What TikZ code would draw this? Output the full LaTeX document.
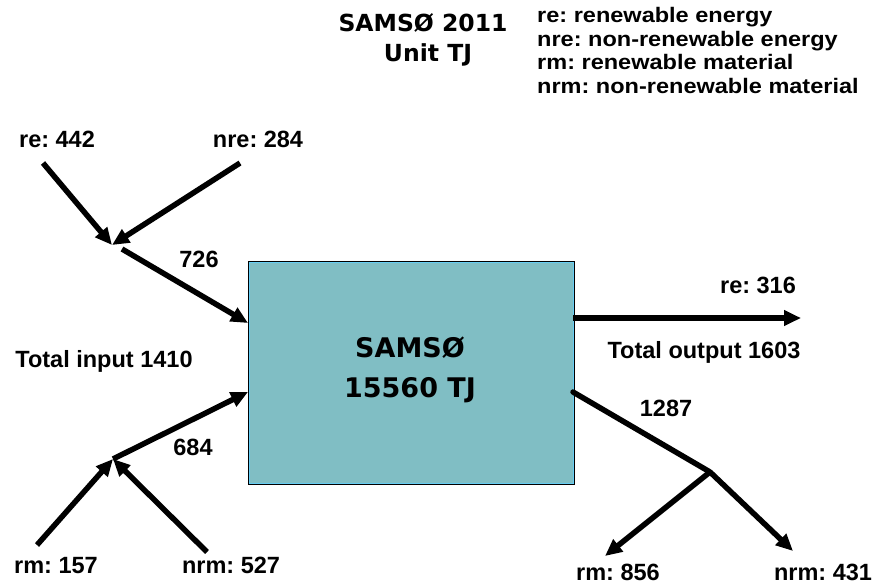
\documentclass[tikz,border=0pt]{standalone}
\usepackage{fontspec}
\setmainfont{Liberation Sans}
\newfontfamily\lblfont{Liberation Sans}[UprightFont=* Bold]
\newfontfamily\legfont{Liberation Sans}[FakeStretch=1.12,UprightFont=* Bold]
\newfontfamily\boxfont{DejaVu Sans}[UprightFont=* Bold]
\usetikzlibrary{arrows.meta}
\definecolor{boxfill}{HTML}{80BEC4}
\frenchspacing
\begin{document}
\begin{tikzpicture}[x=1pt,y=-1pt,
  lbl/.style={font=\lblfont\fontsize{23.5}{26}\selectfont, inner sep=0pt, anchor=base},
  leg/.style={font=\legfont\fontsize{21}{24}\selectfont, inner sep=0pt, anchor=base west},
  big/.style={font=\boxfont\fontsize{27}{30}\selectfont, inner sep=0pt, anchor=base},
  ttl/.style={font=\boxfont\fontsize{23.5}{28}\selectfont, inner sep=0pt, anchor=base},
  flow/.style={line width=5.5pt, -{Triangle[length=17pt,width=15pt]}},
  plain/.style={line width=5.5pt},
  ]
\useasboundingbox (0,0) rectangle (885,586);
% central box
\node[draw=black, line width=1.5pt, fill=boxfill, minimum width=325pt, minimum height=222pt, anchor=north west, inner sep=0pt] (box) at (248,261) {};
\draw[cyan!60!white, line width=0.8pt] ([shift={(1.5pt,-1.5pt)}]box.north west) rectangle ([shift={(-1.5pt,1.5pt)}]box.south east);
\node[big] (boxtxt1) at (410,357) {SAMSØ};
\node[big] (boxtxt2) at (410,397) {15560 TJ};
% title & legend
\node[ttl] (title1) at (423,32) {SAMSØ 2011};
\node[ttl] (title2) at (428,61) {Unit TJ};
\node[leg] (l1) at (537,23) {re: renewable energy};
\node[leg] (l2) at (537,46.5) {nre: non-renewable energy};
\node[leg] (l3) at (537,70) {rm: renewable material};
\node[leg] (l4) at (537,93) {nrm: non-renewable material};
% input labels
\node[lbl] (re442) at (57,147) {re: 442};
\node[lbl] (nre284) at (258,147) {nre: 284};
\node[lbl] (v726) at (199,267) {726};
\node[lbl] (tin) at (104,367) {Total input 1410};
\node[lbl] (v684) at (193,455) {684};
\node[lbl] (rm157) at (56,573) {rm: 157};
\node[lbl] (nrm527) at (231,573) {nrm: 527};
% output labels
\node[lbl] (re316) at (758,293) {re: 316};
\node[lbl] (tout) at (704,358) {Total output 1603};
\node[lbl] (v1287) at (666,416) {1287};
\node[lbl] (rm856) at (618,580) {rm: 856};
\node[lbl] (nrm431) at (823,580) {nrm: 431};
% coordinates
\coordinate (reS) at (43,163);
\coordinate (nreS) at (240,163);
\coordinate (j1) at (112,245);
\coordinate (j1b) at (122,249);
\coordinate (in1) at (248,323);
\coordinate (rmS) at (37,545);
\coordinate (nrmS) at (207,552);
\coordinate (j2) at (113,459);
\coordinate (in2) at (248,392);
\coordinate (out1) at (573,318);
\coordinate (out1e) at (801,318);
\coordinate (out2) at (573,392);
\coordinate (j3) at (710,472);
\coordinate (rmE) at (605,556);
\coordinate (nrmE) at (793,551);
% connectors
\draw[flow] (reS) -- (j1);
\draw[flow] (nreS) -- (j1);
\draw[flow] (j1b) -- (in1);
\draw[flow] (rmS) -- (j2);
\draw[flow] (nrmS) -- (j2);
\draw[flow] (j2) -- (in2);
\draw[flow] (out1) -- (out1e);
\draw[plain, line cap=round] (out2) -- (j3);
\draw[flow] (j3) -- (rmE);
\draw[flow] (j3) -- (nrmE);
\end{tikzpicture}
\end{document}
